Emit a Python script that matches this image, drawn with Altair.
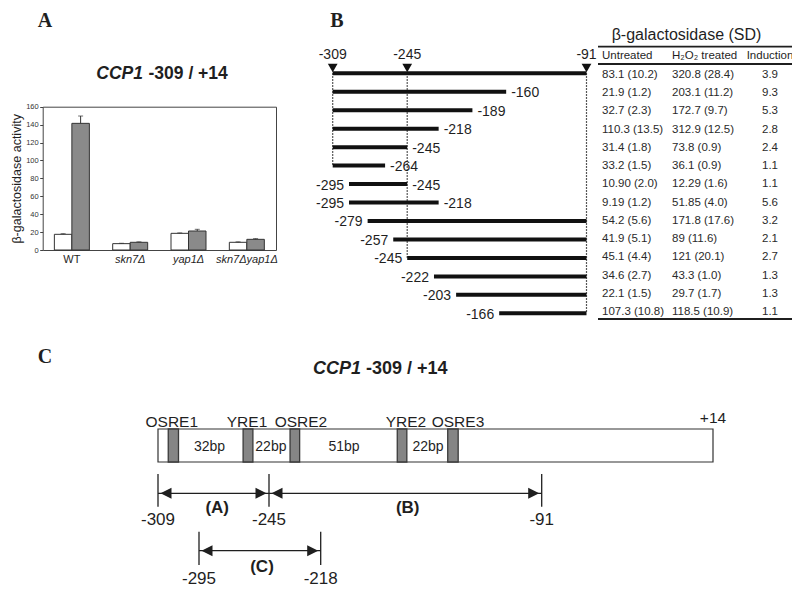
import altair as alt
import pandas as pd

# ---------------- data ----------------
# Panel A: CCP1 -309/+14 reporter activity
strains = ["WT", "skn7Δ", "yap1Δ", "skn7Δyap1Δ"]
treatments = ["Untreated", "H2O2 treated"]
untreated_vals = [17.5, 7.1, 18.6, 8.6]
untreated_err = [0.7, 0.4, 0.5, 0.5]
treated_vals = [141.4, 8.6, 21.2, 11.9]
treated_err = [8.2, 0.5, 1.9, 0.8]
a_y_ticks = [0, 20, 40, 60, 80, 100, 120, 140, 160]

# Panel B: deletion fragments and table
frag_start = [-309, -309, -309, -309, -309, -309, -295, -295, -279, -257, -245, -222, -203, -166]
frag_end = [-91, -160, -189, -218, -245, -264, -245, -218, -91, -91, -91, -91, -91, -91]
marker_pos = [-309, -245, -91]
dotted_pos = [-309, -245, -91]
dotted_from_row = [1, 1, 1]
dotted_to_row = [6, 11, 14]
untreated_txt = ["83.1 (10.2)", "21.9 (1.2)", "32.7 (2.3)", "110.3 (13.5)", "31.4 (1.8)",
                 "33.2 (1.5)", "10.90 (2.0)", "9.19 (1.2)", "54.2 (5.6)", "41.9 (5.1)",
                 "45.1 (4.4)", "34.6 (2.7)", "22.1 (1.5)", "107.3 (10.8)"]
treated_txt = ["320.8 (28.4)", "203.1 (11.2)", "172.7 (9.7)", "312.9 (12.5)", "73.8 (0.9)",
               "36.1 (0.9)", "12.29 (1.6)", "51.85 (4.0)", "171.8 (17.6)", "89 (11.6)",
               "121 (20.1)", "43.3 (1.0)", "29.7 (1.7)", "118.5 (10.9)"]
induction_txt = ["3.9", "9.3", "5.3", "2.8", "2.4", "1.1", "1.1", "5.6", "3.2", "2.1",
                 "2.7", "1.3", "1.3", "1.1"]

# Panel C: promoter schematic
box_start, box_end = -309, 14
element_names = ["OSRE1", "YRE1", "OSRE2", "YRE2", "OSRE3"]
element_start = [-305.5, -263.5, -234.0, -174.0, -145.0]
element_end = [-302.0, -256.5, -229.0, -168.5, -139.0]
element_label_pos = [-304.3, -260.7, -228.3, -169.0, -139.1]
spacer_labels = ["32bp", "22bp", "51bp", "22bp"]
spacer_pos = [-287.5, -244.0, -204.6, -156.3]
region_names = ["(A)", "(B)", "(C)"]
region_start = [-309, -245, -295]
region_end = [-245, -91, -218]
region_row = [0, 0, 1]
region_label_pos = [-282.0, -168.0, -250.0]

# ---------------- styling / layout ----------------
FONT = "Liberation Sans"
SERIF = "Liberation Serif"
INK = "#1f1f1f"
W, H = 784, 578

def txt(text, x, y, size=14, weight="normal", style="normal", align="center", font=FONT,
        baseline="middle"):
    return alt.Chart(pd.DataFrame({"t": [text]})).mark_text(
        font=font, fontSize=size, fontWeight=weight, fontStyle=style, align=align,
        baseline=baseline, color=INK
    ).encode(x=alt.value(x), y=alt.value(y), text="t:N")

layers = []

# ---------- Panel A ----------
a_x = alt.Scale(domain=strains, range=[34.7, 268], paddingInner=0.4, paddingOuter=0.2)
a_y = alt.Scale(domain=[0, 160], range=[242, 98.7], nice=False, zero=True)
a_off = alt.Scale(domain=treatments, paddingInner=0, paddingOuter=0)
a_fill = alt.Scale(domain=treatments, range=["#ffffff", "#8a8a8a"])

bars_df = pd.DataFrame({
    "strain": strains * 2,
    "treat": [treatments[0]] * 4 + [treatments[1]] * 4,
    "value": untreated_vals + treated_vals,
    "err": untreated_err + treated_err,
})
bars_df["top"] = bars_df["value"] + bars_df["err"]

bars = alt.Chart(bars_df).mark_bar(stroke="#333333", strokeWidth=1).encode(
    x=alt.X("strain:N", sort=strains, scale=a_x,
            axis=alt.Axis(orient="bottom", offset=-(H - 242), ticks=False, title=None,
                          labelAngle=0, labelFontSize=11, labelPadding=3, labelColor=INK,
                          labelFontStyle={"condition": {"test": "datum.value === 'WT'", "value": "normal"},
                                          "value": "italic"},
                          domainColor="#444444")),
    xOffset=alt.XOffset("treat:N", sort=treatments, scale=a_off),
    y=alt.Y("value:Q", scale=a_y,
            axis=alt.Axis(orient="left", offset=-34.7, values=a_y_ticks, tickSize=3,
                          labelFontSize=7.5, labelPadding=1.5, labelColor="#333333",
                          title="β-galactosidase activity", titleFontSize=12.5,
                          titleFontWeight="normal", titlePadding=2, titleColor=INK,
                          domainColor="#444444", tickColor="#444444")),
    fill=alt.Fill("treat:N", scale=a_fill, legend=None),
)
errs = alt.Chart(bars_df).mark_rule(color="#333333", strokeWidth=1).encode(
    x=alt.X("strain:N", sort=strains, scale=a_x,
            axis=alt.Axis(orient="top", offset=-98.7, ticks=False, labels=False, title=None,
                          domainColor="#444444")),
    xOffset=alt.XOffset("treat:N", sort=treatments, scale=a_off),
    y=alt.Y("value:Q", scale=a_y,
            axis=alt.Axis(orient="right", offset=-(W - 268), ticks=False, labels=False,
                          title=None, domainColor="#444444")),
    y2="top:Q",
)
caps = alt.Chart(bars_df).mark_tick(color="#333333", size=5, thickness=1).encode(
    x=alt.X("strain:N", sort=strains, scale=a_x, axis=None),
    xOffset=alt.XOffset("treat:N", sort=treatments, scale=a_off),
    y=alt.Y("top:Q", scale=a_y, axis=None),
)
layers += [bars, errs, caps]
layers += [txt("A", 37, 18.5, size=20, weight="bold", font=SERIF, baseline="alphabetic"),
           txt("CCP1", 135, 66, size=17.5, weight="bold", style="italic", align="right"),
           txt("-309 / +14", 140.5, 66, size=17.5, weight="bold", align="left")]

# ---------- Panel B ----------
b_x = alt.Scale(domain=[-309, -91], range=[324.7, 578.5], nice=False, zero=False)
b_y = alt.Scale(domain=[1, 14], range=[65.3, 305.3], nice=False, zero=False)
rows = list(range(1, 15))
frag_df = pd.DataFrame({"row": rows, "start": frag_start, "end": frag_end})
frag_df["start_lbl"] = frag_df["start"].astype(str)
frag_df["end_lbl"] = frag_df["end"].astype(str)

dots_df = pd.DataFrame({"pos": dotted_pos, "r0": dotted_from_row, "r1": dotted_to_row})
layers.append(alt.Chart(dots_df).mark_rule(color=INK, strokeWidth=1.2, strokeDash=[1.5, 1.5]).encode(
    x=alt.X("pos:Q", scale=b_x, axis=None),
    y=alt.Y("r0:Q", scale=b_y, axis=None), y2="r1:Q"))
layers.append(alt.Chart(frag_df).mark_rule(color="#111111", strokeWidth=4, strokeCap="butt").encode(
    x=alt.X("start:Q", scale=b_x, axis=None), x2="end:Q",
    y=alt.Y("row:Q", scale=b_y, axis=None)))
layers.append(alt.Chart(frag_df).transform_filter("datum.end != -91").mark_text(
    font=FONT, fontSize=14, align="left", baseline="middle", dx=5, dy=1.5, color=INK).encode(
    x=alt.X("end:Q", scale=b_x, axis=None), y=alt.Y("row:Q", scale=b_y, axis=None), text="end_lbl:N"))
layers.append(alt.Chart(frag_df).transform_filter("datum.start != -309").mark_text(
    font=FONT, fontSize=14, align="right", baseline="middle", dx=-5, dy=1.5, color=INK).encode(
    x=alt.X("start:Q", scale=b_x, axis=None), y=alt.Y("row:Q", scale=b_y, axis=None), text="start_lbl:N"))

mark_df = pd.DataFrame({"pos": marker_pos, "lbl": [str(p) for p in marker_pos]})
layers.append(alt.Chart(mark_df).mark_point(shape="triangle-down", filled=True, size=95, opacity=1,
                                            color="#111111", strokeWidth=0).encode(
    x=alt.X("pos:Q", scale=b_x, axis=None), y=alt.value(60)))
layers.append(alt.Chart(mark_df).mark_text(font=FONT, fontSize=14, baseline="middle", color=INK).encode(
    x=alt.X("pos:Q", scale=b_x, axis=None), y=alt.value(47), text="lbl:N"))
layers.append(txt("B", 329, 18.5, size=20, weight="bold", font=SERIF, baseline="alphabetic"))

# table
t_y = alt.Scale(domain=[1, 14], range=[67, 304], nice=False, zero=False)
tbl_df = pd.DataFrame({"row": rows, "u": untreated_txt, "h": treated_txt, "i": induction_txt})
for col, xpos, al in [("u", 594, "left"), ("h", 664, "left"), ("i", 762, "center")]:
    layers.append(alt.Chart(tbl_df).mark_text(font=FONT, fontSize=11.5, align=al, baseline="middle",
                                              color="#2a2a2a").encode(
        x=alt.value(xpos), y=alt.Y("row:Q", scale=t_y, axis=None), text=f"{col}:N"))
layers += [txt("β-galactosidase (SD)", 678.5, 27, size=16),
           txt("Untreated", 594, 47.5, size=11.5, align="left"),
           txt("H₂O₂ treated", 664, 47.5, size=11.5, align="left"),
           txt("Induction", 762, 47.5, size=11.5)]
for yy in [38.7, 56.0, 311.0]:
    layers.append(alt.Chart(pd.DataFrame({"k": [0]})).mark_rule(color=INK, strokeWidth=1.8).encode(
        x=alt.value(590), x2=alt.value(786), y=alt.value(yy)))

# ---------- Panel C ----------
c_x = alt.Scale(domain=[-309, -295, -245, -218, -91, 14],
                range=[150, 191, 261, 312.7, 533.7, 705], nice=False, zero=False)
layers += [txt("C", 37, 355, size=20, weight="bold", font=SERIF, baseline="alphabetic"),
           txt("CCP1", 353, 361, size=18, weight="bold", style="italic", align="right"),
           txt("-309 / +14", 358, 361, size=18, weight="bold", align="left")]

box_df = pd.DataFrame({"s": [box_start], "e": [box_end], "lbl": ["+" + str(box_end)]})
layers.append(alt.Chart(box_df).mark_rect(fill="white", stroke="#333333", strokeWidth=1.2).encode(
    x=alt.X("s:Q", scale=c_x, axis=None), x2="e:Q", y=alt.value(421), y2=alt.value(454)))
layers.append(alt.Chart(box_df).mark_text(font=FONT, fontSize=15.5, baseline="middle", color=INK).encode(
    x=alt.X("e:Q", scale=c_x, axis=None), y=alt.value(410), text="lbl:N"))

el_df = pd.DataFrame({"name": element_names, "s": element_start, "e": element_end, "lp": element_label_pos})
layers.append(alt.Chart(el_df).mark_rect(fill="#858585", stroke="#3a3a3a", strokeWidth=1.3).encode(
    x=alt.X("s:Q", scale=c_x, axis=None), x2="e:Q", y=alt.value(421), y2=alt.value(454)))
layers.append(alt.Chart(el_df).mark_text(font=FONT, fontSize=15.5, baseline="middle", color=INK).encode(
    x=alt.X("lp:Q", scale=c_x, axis=None), y=alt.value(413.7), text="name:N"))
sp_df = pd.DataFrame({"lbl": spacer_labels, "pos": spacer_pos})
layers.append(alt.Chart(sp_df).mark_text(font=FONT, fontSize=14, baseline="middle", color=INK).encode(
    x=alt.X("pos:Q", scale=c_x, axis=None), y=alt.value(439), text="lbl:N"))

row_geom = {0: dict(line=485.3, top=466, bot=498.7, num=512, lab=499.5),
            1: dict(line=542.7, top=523.7, bot=557, num=570.5, lab=559)}
reg_df = pd.DataFrame({"name": region_names, "s": region_start, "e": region_end,
                       "row": region_row, "lp": region_label_pos})
LEFT_HEAD = "M 2.5 0 L 13.5 -5.5 L 13.5 5.5 Z"
RIGHT_HEAD = "M -2.5 0 L -13.5 -5.5 L -13.5 5.5 Z"
for r, g in row_geom.items():
    d = reg_df[reg_df["row"] == r]
    ends = sorted(set(d["s"]).union(set(d["e"])))
    ends_df = pd.DataFrame({"pos": ends, "lbl": [str(p) for p in ends]})
    layers.append(alt.Chart(d).mark_rule(color=INK, strokeWidth=1.3).encode(
        x=alt.X("s:Q", scale=c_x, axis=None), x2="e:Q", y=alt.value(g["line"])))
    layers.append(alt.Chart(d).mark_point(shape=LEFT_HEAD, size=4, filled=True, opacity=1,
                                          color=INK, strokeWidth=0).encode(
        x=alt.X("s:Q", scale=c_x, axis=None), y=alt.value(g["line"])))
    layers.append(alt.Chart(d).mark_point(shape=RIGHT_HEAD, size=4, filled=True, opacity=1,
                                          color=INK, strokeWidth=0).encode(
        x=alt.X("e:Q", scale=c_x, axis=None), y=alt.value(g["line"])))
    layers.append(alt.Chart(ends_df).mark_rule(color=INK, strokeWidth=1.3).encode(
        x=alt.X("pos:Q", scale=c_x, axis=None), y=alt.value(g["top"]), y2=alt.value(g["bot"])))
    layers.append(alt.Chart(ends_df).mark_text(font=FONT, fontSize=17, baseline="middle", color=INK).encode(
        x=alt.X("pos:Q", scale=c_x, axis=None), y=alt.value(g["num"]), text="lbl:N"))
    layers.append(alt.Chart(d).mark_text(font=FONT, fontSize=17, fontWeight="bold", baseline="middle",
                                         color=INK).encode(
        x=alt.X("lp:Q", scale=c_x, axis=None), y=alt.value(g["lab"]), text="name:N"))

chart = alt.layer(*layers).resolve_scale(
    x="independent", y="independent"
).resolve_axis(
    x="independent", y="independent"
).properties(
    width=W, height=H, autosize=alt.AutoSizeParams(type="none"), padding=0, background="white"
).configure_view(stroke=None).configure_axis(
    grid=False, labelFont=FONT, titleFont=FONT
)

chart.save("out.html", embed_options={"renderer": "svg", "actions": False})
